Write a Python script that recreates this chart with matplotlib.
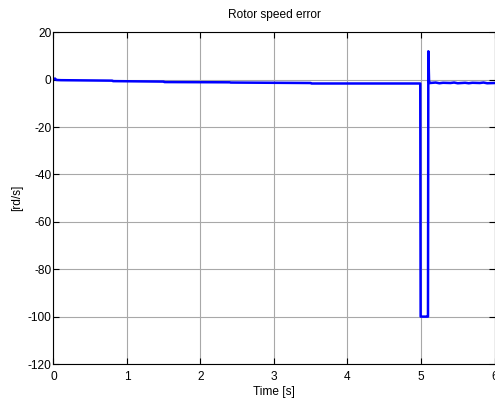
import matplotlib
matplotlib.use('Agg')
import matplotlib.pyplot as plt

# rotor speed error
t = [0.0, 0.02, 0.04, 0.1, 0.8, 0.81, 1.5, 1.51, 2.4, 2.41, 3.5, 3.51, 4.99,
     4.995, 5.0, 5.09, 5.095, 5.1, 5.11, 5.12, 5.2, 5.25, 5.3, 5.4, 5.45, 5.5,
     5.6, 5.65, 5.7, 5.8, 5.85, 5.9, 6.0]
err = [0.0, 0.5, -0.1, -0.2, -0.4, -0.6, -0.8, -1.0, -1.1, -1.2, -1.4, -1.6, -1.6,
       -100, -100, -100, -100, 12, -1.0, -1.4, -1.2, -1.5, -1.3, -1.4, -1.2, -1.5,
       -1.3, -1.5, -1.3, -1.4, -1.2, -1.5, -1.4]

plt.rcParams['font.family'] = ['Liberation Sans', 'DejaVu Sans']
plt.rcParams['font.size'] = 8.6
plt.rcParams['axes.unicode_minus'] = False

fig = plt.figure(figsize=(4.95, 4.04), dpi=100)
ax = fig.add_axes([0.108, 0.099, 0.891, 0.821])
ax.plot(t, err, color='#0000ff', linewidth=1.8)
ax.set_xlim(0, 6)
ax.set_ylim(-120, 20)
ax.set_xticks(range(0, 7))
ax.set_yticks(range(-120, 21, 20))
ax.grid(True, color='#a8a8a8', linewidth=0.8)
ax.tick_params(direction='in', top=True, right=True, length=4, width=0.8)
ax.tick_params(axis='x', pad=5)
ax.tick_params(axis='y', pad=1.5)
for s in ax.spines.values():
    s.set_linewidth(0.8)
ax.set_title('Rotor speed error', fontsize=8.6, pad=10)
ax.set_xlabel('Time [s]', labelpad=2)
ax.set_ylabel('[rd/s]', labelpad=3)

fig.savefig('out.png', dpi=100)
